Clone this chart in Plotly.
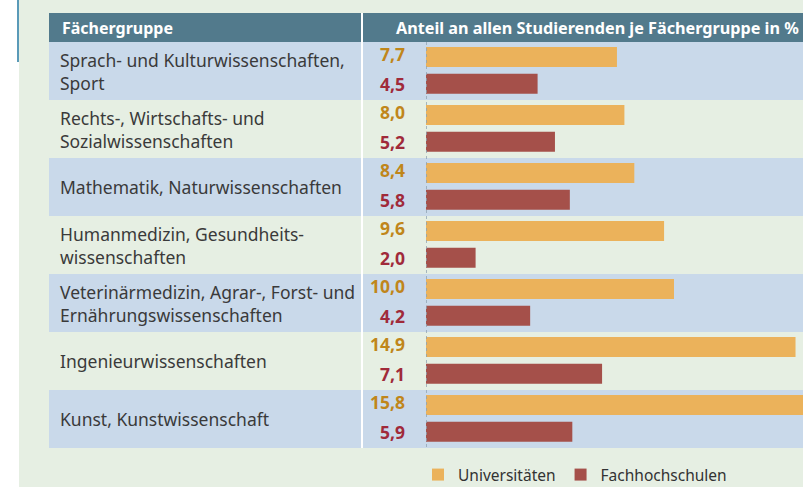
import plotly.graph_objects as go

# data
groups = [
    "Sprach- und Kulturwissenschaften,<br>Sport",
    "Rechts-, Wirtschafts- und<br>Sozialwissenschaften",
    "Mathematik, Naturwissenschaften",
    "Humanmedizin, Gesundheits-<br>wissenschaften",
    "Veterinärmedizin, Agrar-, Forst- und<br>Ernährungswissenschaften",
    "Ingenieurwissenschaften",
    "Kunst, Kunstwissenschaft",
]
universitaeten = [7.7, 8.0, 8.4, 9.6, 10.0, 14.9, 15.8]
fachhochschulen = [4.5, 5.2, 5.8, 2.0, 4.2, 7.1, 5.9]
series_names = ["Universitäten", "Fachhochschulen"]
header_left = "Fächergruppe"
header_right = "Anteil an allen Studierenden je Fächergruppe in %"

W, H = 803, 487
FONT = "Noto Sans"
UNI_COLOR = "#ebb25b"
FH_COLOR = "#a5504a"
UNI_TEXT = "#c0861a"
FH_TEXT = "#a02a3a"
HEADER = "#527a8c"
ROW_BLUE = "#c9d9ea"
BG_GREEN = "#e6efe3"


def px(x):
    return x / W


def py(y):
    return 1 - y / H


n = len(groups)
uni_pos = [i + 0.26 for i in range(n)]
fh_pos = [i + 0.72 for i in range(n)]
bar_start, px_per_unit = 426, 24.8

fig = go.Figure()

fig.add_trace(
    go.Bar(
        x=universitaeten,
        y=uni_pos,
        orientation="h",
        width=0.345,
        marker=dict(color=UNI_COLOR, line=dict(width=0)),
        name=series_names[0],
        hoverinfo="x",
    )
)
fig.add_trace(
    go.Bar(
        x=fachhochschulen,
        y=fh_pos,
        orientation="h",
        width=0.345,
        marker=dict(color=FH_COLOR, line=dict(width=0)),
        name=series_names[1],
        hoverinfo="x",
    )
)

shapes = [
    # green panel and blue accent line on the left
    dict(type="rect", xref="paper", yref="paper", x0=px(19), x1=1, y0=0, y1=1,
         fillcolor=BG_GREEN, line_width=0, layer="below"),
    dict(type="line", xref="paper", yref="paper", x0=px(18), x1=px(18), y0=1, y1=py(62),
         line=dict(color="#5a9ab8", width=2), layer="below"),
    # header bar
    dict(type="rect", xref="paper", yref="paper", x0=px(49), x1=1, y0=py(42), y1=py(13),
         fillcolor=HEADER, line_width=0, layer="below"),
]
for i in range(0, n, 2):
    shapes.append(
        dict(type="rect", xref="paper", yref="y", x0=px(49), x1=1, y0=i, y1=i + 1,
             fillcolor=ROW_BLUE, line_width=0, layer="below")
    )
shapes.append(
    dict(type="line", xref="paper", yref="paper", x0=px(362), x1=px(362), y0=py(448), y1=py(13),
         line=dict(color="white", width=2), layer="below")
)
shapes.append(
    dict(type="line", xref="x", yref="y", x0=0, x1=0, y0=0, y1=n,
         line=dict(color="#8fa3b3", width=1.5, dash="dot"), layer="above")
)

annotations = [
    dict(text=f"<b>{header_left}</b>", xref="paper", yref="paper", x=px(60), y=py(28),
         xanchor="left", yanchor="middle", showarrow=False,
         font=dict(family=FONT, size=16, color="white")),
    dict(text=f"<b>{header_right}</b>", xref="paper", yref="paper", x=px(801), y=py(28),
         xanchor="right", yanchor="middle", showarrow=False,
         font=dict(family=FONT, size=16.2, color="white")),
]
for i, g in enumerate(groups):
    annotations.append(
        dict(text=g, xref="paper", yref="y", x=px(58), y=i + 0.5, xanchor="left",
             yanchor="middle", align="left", showarrow=False,
             font=dict(family=FONT, size=17.5, color="#3a3a3a"))
    )
for vals, pos, col, shift in [(universitaeten, uni_pos, UNI_TEXT, 3), (fachhochschulen, fh_pos, FH_TEXT, 0)]:
    for v, p in zip(vals, pos):
        annotations.append(
            dict(text="<b>" + f"{v:.1f}".replace(".", ",") + "</b>", xref="x", yref="y",
                 x=0, y=p, xanchor="right", yanchor="middle", xshift=-19, yshift=shift,
                 showarrow=False, font=dict(family=FONT, size=17.5, color=col))
        )

fig.update_layout(
    width=W,
    height=H,
    margin=dict(l=0, r=0, t=0, b=0, autoexpand=False),
    paper_bgcolor="white",
    plot_bgcolor="rgba(0,0,0,0)",
    barmode="overlay",
    xaxis=dict(domain=[px(bar_start), 1], range=[0, (W - bar_start) / px_per_unit],
               visible=False, fixedrange=True),
    yaxis=dict(domain=[py(448), py(42)], range=[n, 0], visible=False, fixedrange=True),
    shapes=shapes,
    annotations=annotations,
    showlegend=True,
    legend=dict(orientation="h", x=px(418), y=py(475), xanchor="left", yanchor="middle",
                bgcolor="rgba(0,0,0,0)", font=dict(family=FONT, size=15.5, color="#333333"),
                traceorder="normal"),
)

# drop the default page margin so the figure fills the window
fig.write_html(
    "out.html",
    config={"displayModeBar": False},
    post_script="document.body.style.margin='0';document.documentElement.style.overflow='hidden';",
)
